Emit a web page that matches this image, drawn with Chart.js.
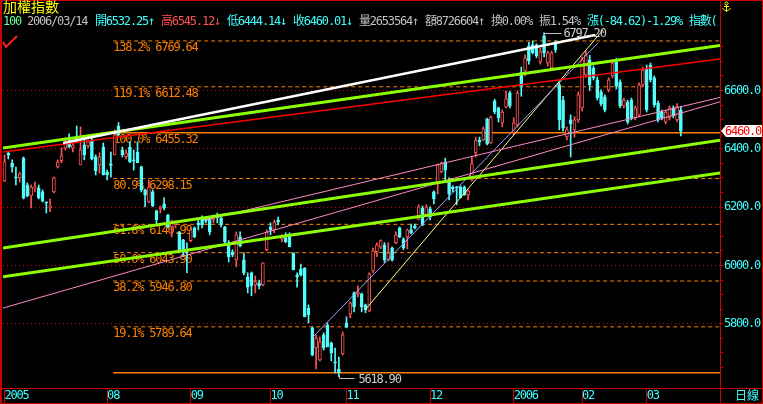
<!DOCTYPE html>
<html>
<head>
<meta charset="utf-8">
<script src="https://cdn.jsdelivr.net/npm/chart.js@4/dist/chart.umd.min.js"></script>
<style>
html, body { margin: 0; padding: 0; background: #000; }
#wrap { position: relative; width: 763px; height: 404px; overflow: hidden; background: #000; }
#wrap canvas { position: absolute; left: 0; top: 0; }
.txt { position: absolute; white-space: nowrap; font: 12px "DejaVu Sans Mono", "Noto Sans CJK TC", monospace; letter-spacing: -1.2px; line-height: 13px; }
</style>
</head>
<body>
<div id="wrap">
  <canvas id="main_chart" width="763" height="404"></canvas>
  <div class="txt" style="left:3px;top:0px;color:#ffff00;font-size:14px;line-height:15px;letter-spacing:0">加權指數</div>
  <div id="info"></div>
  <div class="txt" style="left:735px;top:390px;color:#40ffff;letter-spacing:0">日線</div>
</div>
<script>
// daily bars, index 0 = first bar on screen, last = 2006/03/14
const opens = [6290,6385,6350,6303,6300,6368,6276,6238,6266,6266,6252,6218,6200,6252,6338,6359,6403,6424,6403,6434,
  6345,6413,6410,6427,6372,6345,6406,6320,6348,6379,6478,6396,6372,6406,6362,6389,6338,6259,6218,6252,
  6187,6194,6211,6173,6132,6139,6115,6088,6047,6085,6129,6146,6166,6163,6163,6156,6168,6163,6132,6078,
  6047,6019,6098,6019,5961,5975,5933,5940,5933,6054,6132,6122,6156,6091,6095,6105,6043,5968,5988,5992,
  5854,5786,5717,5676,5762,5796,5734,5669,5645,5697,5803,5834,5906,5903,5903,5865,5844,5981,6047,6064,
  6071,6019,6060,6078,6129,6091,6098,6122,6136,6158,6197,6173,6194,6252,6280,6321,6355,6286,6269,6269,
  6269,6269,6242,6293,6386,6430,6430,6502,6420,6564,6540,6489,6543,6592,6455,6482,6663,6667,6752,6756,
  6756,6698,6787,6694,6677,6763,6619,6567,6441,6499,6465,6499,6540,6653,6705,6677,6636,6595,6578,6602,
  6650,6698,6629,6547,6560,6567,6506,6516,6619,6677,6687,6643,6557,6526,6492,6506,6540,6499,6532.25];
const highs = [6379,6390,6362,6337,6320,6372,6283,6276,6286,6276,6259,6218,6228,6303,6362,6403,6437,6451,6424,6478,
  6475,6430,6430,6437,6379,6386,6420,6327,6389,6465,6490,6406,6396,6424,6396,6424,6341,6262,6293,6259,
  6190,6204,6232,6175,6156,6153,6117,6090,6078,6129,6132,6156,6170,6166,6166,6166,6180,6166,6134,6085,
  6054,6115,6115,6043,5975,5978,5964,5950,6009,6122,6146,6156,6166,6105,6112,6112,6043,5975,6005,5992,
  5865,5789,5762,5755,5769,5803,5738,5717,5686,5772,5824,5875,5910,5930,5906,5868,5975,6060,6078,6088,
  6078,6078,6064,6115,6132,6095,6125,6142,6142,6208,6204,6208,6201,6256,6348,6355,6368,6300,6273,6271,
  6273,6273,6259,6372,6440,6440,6475,6505,6512,6570,6543,6533,6598,6598,6506,6598,6680,6722,6765,6770,
  6760,6745,6797.2,6735,6735,6770,6630,6580,6475,6516,6510,6595,6715,6735,6720,6684,6646,6602,6585,6643,
  6705,6710,6636,6574,6567,6574,6547,6626,6680,6687,6694,6650,6564,6533,6533,6547,6547,6555,6545.12];
const lows = [6288,6365,6320,6276,6286,6228,6235,6197,6252,6228,6218,6180,6184,6249,6334,6352,6396,6403,6389,6420,
  6345,6362,6403,6362,6310,6317,6310,6293,6303,6379,6445,6372,6365,6352,6327,6352,6252,6201,6214,6201,
  6139,6180,6190,6129,6098,6129,6043,6030,5975,6081,6095,6122,6129,6146,6105,6146,6146,6132,6078,6012,
  6030,5995,6064,5968,5906,5896,5906,5920,5930,6050,6105,6112,6139,6081,6078,6064,5985,5926,5964,5824,
  5803,5690,5645,5673,5710,5721,5673,5632,5618.9,5693,5786,5820,5841,5892,5841,5838,5841,5975,6030,6057,
  6010,6015,6015,6075,6095,6054,6057,6108,6125,6156,6136,6170,6156,6211,6245,6318,6293,6225,6252,6208,
  6232,6240,6225,6290,6372,6410,6427,6413,6418,6520,6492,6475,6540,6540,6448,6475,6580,6650,6690,6725,
  6712,6690,6715,6684,6670,6730,6465,6460,6430,6372,6440,6490,6530,6645,6600,6636,6567,6547,6526,6595,
  6643,6605,6540,6540,6485,6499,6499,6509,6612,6526,6629,6543,6492,6499,6485,6499,6506,6492,6444.14];
const closes = [6355,6378,6337,6300,6314,6231,6238,6269,6269,6232,6221,6214,6203,6300,6355,6376,6417,6406,6413,6425,
  6396,6379,6424,6365,6324,6372,6310,6310,6343,6448,6448,6379,6386,6355,6358,6352,6259,6242,6269,6204,
  6156,6201,6197,6132,6149,6146,6047,6047,6043,6122,6098,6139,6139,6153,6115,6163,6164,6139,6081,6030,
  6036,6105,6067,5975,5926,5930,5944,5930,6009,6115,6122,6149,6149,6098,6081,6064,5985,5961,5968,5824,
  5831,5693,5751,5738,5717,5721,5700,5666,5632,5762,5789,5872,5858,5910,5858,5848,5971,6050,6071,6085,
  6019,6043,6019,6105,6098,6060,6122,6112,6129,6201,6139,6201,6166,6228,6345,6352,6327,6245,6262,6266,
  6232,6242,6256,6348,6430,6423,6468,6417,6509,6526,6506,6526,6571,6547,6489,6591,6615,6711,6701,6729,
  6718,6732,6729,6729,6729,6739,6499,6471,6465,6485,6499,6585,6705,6722,6619,6643,6574,6554,6533,6636,
  6694,6615,6547,6567,6492,6506,6540,6619,6670,6533,6636,6550,6499,6506,6526,6540,6513,6544.63,6460.01];
const lastDate = '2006/03/14';
const volume = 2653564;
const amount = 8726604;

// month axis
const tickIdx = [0, 27, 49, 70, 90, 112, 134, 152, 169];
const tickText = ['2005', '08', '09', '10', '11', '12', '2006', '02', '03'];
const yLabelValues = [5800, 6000, 6200, 6400, 6600];

// fibonacci levels
const fibPct = [0, 19.1, 38.2, 50, 61.8, 80.9, 100, 119.1, 138.2];
const fibValue = [5632.49, 5789.64, 5946.80, 6043.90, 6140.99, 6298.15, 6455.32, 6612.48, 6769.64];
const fibFrom = 28.6;

// drawn trend lines: [bar index, price]
const trendNames = ['white', 'greenUp', 'red', 'greenMid', 'greenLow', 'pinkUp', 'pinkLow', 'lavender', 'yellow'];
const trendFrom = [[15.4, 6420], [-0.4, 6403], [-0.4, 6389], [-0.4, 6060], [-0.4, 5961], [52.8, 6156], [-0.4, 5854], [81.2, 5755], [94.9, 5848]];
const trendTo = [[155.4, 6790], [188.3, 6754], [188.3, 6708], [188.3, 6429], [188.3, 6317], [188.3, 6576], [188.3, 6561], [156.2, 6763], [157.5, 6807]];

const X_MIN = -0.4, X_MAX = 188.3, Y_MIN = 5580, Y_MAX = 6814;

const UP = '#ff5454', DOWN = '#54fcfc', CYAN = '#40ffff', ORANGE = '#ff8000', FRAME = '#c80000';
const FONT = '12px "DejaVu Sans Mono", monospace';
const trendStyle = {
  white: ['#ffffff', 2.5], greenUp: ['#8cff00', 3], red: ['#ff0000', 1.5], greenMid: ['#8cff00', 3],
  greenLow: ['#8cff00', 3], pinkUp: ['#ff88c8', 1], pinkLow: ['#ff88c8', 1], lavender: ['#a0a0ff', 1], yellow: ['#ffff88', 1]
};

// header line
const last = closes.length - 1;
const prev = closes[last - 1];
const chg = closes[last] - prev;
const pct = chg / prev * 100;
const amp = (highs[last] - lows[last]) / prev * 100;
const infoParts = [
  [3, '#66ff99', '100'],
  [27, '#c0c0c0', lastDate],
  [95, CYAN, '開' + opens[last].toFixed(2) + '↑'],
  [161, '#ff5050', '高' + highs[last].toFixed(2) + '↓'],
  [227, CYAN, '低' + lows[last].toFixed(2) + '↓'],
  [293, CYAN, '收' + closes[last].toFixed(2) + '↓'],
  [359, '#c0c0c0', '量' + volume + '↑'],
  [425, '#c0c0c0', '額' + amount + '↑'],
  [491, '#c0c0c0', '換0.00%'],
  [539, '#c0c0c0', '振' + amp.toFixed(2) + '%'],
  [587, CYAN, '漲(' + chg.toFixed(2) + ')' + pct.toFixed(2) + '%'],
  [689, CYAN, '指數(']
];
const info = document.getElementById('info');
infoParts.forEach(function(p) {
  let d = document.createElement('div');
  d.className = 'txt';
  d.style.left = p[0] + 'px';
  d.style.top = '15px';
  d.style.color = p[1];
  d.textContent = p[2];
  info.appendChild(d);
});

const isUp = closes.map((c, i) => c >= opens[i]);
const colors = isUp.map(u => u ? UP : DOWN);

let datasets = [];
trendNames.forEach(function(name, k) {
  datasets.push({
    type: 'line',
    data: [{x: trendFrom[k][0], y: trendFrom[k][1]}, {x: trendTo[k][0], y: trendTo[k][1]}],
    borderColor: trendStyle[name][0],
    borderWidth: trendStyle[name][1],
    pointRadius: 0,
    order: 1 + k
  });
});
fibValue.forEach(function(v, k) {
  let solid = fibPct[k] === 0 || fibPct[k] === 100;
  datasets.push({
    type: 'line',
    data: [{x: fibFrom, y: v}, {x: X_MAX, y: v}],
    borderColor: ORANGE,
    borderWidth: solid ? 1.5 : 1,
    borderDash: solid ? [] : [4, 3],
    pointRadius: 0,
    order: 40
  });
});
datasets.push({
  type: 'bar',
  data: lows.map((l, i) => ({x: i, y: [l, highs[i]]})),
  backgroundColor: colors,
  borderWidth: 0,
  barThickness: 1,
  grouped: false,
  order: 30
});
datasets.push({
  type: 'bar',
  data: opens.map((o, i) => ({x: i, y: [o, closes[i]]})),
  backgroundColor: isUp.map(u => u ? '#000000' : DOWN),
  borderColor: colors,
  borderWidth: 1,
  borderSkipped: false,
  minBarLength: 1,
  barThickness: 3,
  grouped: false,
  order: 29
});

const decor = {
  id: 'decor',
  beforeDraw(chart) {
    chart.ctx.letterSpacing = '-1.2px';
  },
  beforeDatasetsDraw(chart) {
    const ctx = chart.ctx, x = chart.scales.x, y = chart.scales.y;
    ctx.save();
    ctx.font = FONT;
    ctx.textBaseline = 'top';
    ctx.fillStyle = ORANGE;
    fibPct.forEach(function(p, k) {
      if (p === 0) return;
      ctx.fillText(p.toFixed(1) + '% ' + fibValue[k].toFixed(2), x.getPixelForValue(fibFrom), y.getPixelForValue(fibValue[k]) + 1);
    });
    ctx.restore();
  },
  afterDatasetsDraw(chart) {
    const ctx = chart.ctx, x = chart.scales.x, y = chart.scales.y, area = chart.chartArea;
    ctx.save();
    ctx.font = FONT;
    ctx.textBaseline = 'middle';
    // peak
    let hi = Math.max(...highs), iHi = highs.indexOf(hi);
    let px = Math.round(x.getPixelForValue(iHi)) + 0.5, py = Math.round(y.getPixelForValue(hi)) + 0.5;
    ctx.strokeStyle = '#c0c0c0';
    ctx.lineWidth = 1;
    ctx.beginPath();
    ctx.moveTo(px, py + 4); ctx.lineTo(px, py); ctx.lineTo(px + 17, py);
    ctx.stroke();
    ctx.fillStyle = '#d0d0d0';
    ctx.fillText(hi.toFixed(2), px + 19, py);
    // trough
    let lo = Math.min(...lows), iLo = lows.indexOf(lo);
    px = Math.round(x.getPixelForValue(iLo)) + 0.5; py = Math.round(y.getPixelForValue(lo)) + 0.5;
    ctx.beginPath();
    ctx.moveTo(px, py - 2); ctx.lineTo(px, py + 1); ctx.lineTo(px + 15, py + 1);
    ctx.stroke();
    ctx.fillText(lo.toFixed(2), px + 19, py + 2);
    // last price tag
    let ty = Math.round(y.getPixelForValue(closes[last]));
    let r = area.right + 1;
    ctx.fillStyle = '#ffffff';
    ctx.beginPath();
    ctx.moveTo(r, ty); ctx.lineTo(r + 5, ty - 6); ctx.lineTo(r + 42, ty - 6); ctx.lineTo(r + 42, ty + 6); ctx.lineTo(r + 5, ty + 6);
    ctx.closePath();
    ctx.fill();
    ctx.fillStyle = '#ff0000';
    ctx.fillText(closes[last].toFixed(1), r + 4, ty + 1);
    // check mark
    ctx.strokeStyle = '#ff2020';
    ctx.lineWidth = 2;
    ctx.beginPath();
    ctx.moveTo(3, 42); ctx.lineTo(6, 47); ctx.lineTo(17, 36);
    ctx.stroke();
    ctx.restore();
  },
  afterDraw(chart) {
    const ctx = chart.ctx, area = chart.chartArea, W = chart.width, H = chart.height;
    ctx.save();
    ctx.strokeStyle = FRAME;
    ctx.lineWidth = 1;
    ctx.strokeRect(0.5, 0.5, W - 1, H - 1);
    ctx.beginPath();
    ctx.moveTo(1.5, 0); ctx.lineTo(1.5, H);
    ctx.moveTo(area.right + 0.5, 0); ctx.lineTo(area.right + 0.5, H);
    ctx.moveTo(0, area.bottom + 0.5); ctx.lineTo(W, area.bottom + 0.5);
    ctx.stroke();
    // small anchor icon
    let ax = area.right + 6.5;
    ctx.strokeStyle = '#ffff00';
    ctx.lineWidth = 1;
    ctx.beginPath();
    ctx.arc(ax, 3.5, 1.5, 0, Math.PI * 2);
    ctx.moveTo(ax, 5); ctx.lineTo(ax, 11.5);
    ctx.moveTo(ax - 2.5, 6.5); ctx.lineTo(ax + 2.5, 6.5);
    ctx.moveTo(ax - 4, 8); ctx.quadraticCurveTo(ax, 14, ax + 4, 8);
    ctx.stroke();
    ctx.restore();
  }
};

new Chart(document.getElementById('main_chart'), {
  type: 'bar',
  data: { datasets: datasets },
  options: {
    responsive: false,
    devicePixelRatio: 1,
    animation: false,
    events: [],
    layout: { padding: { left: 3, right: 1, top: 28, bottom: 0 } },
    plugins: { legend: { display: false }, tooltip: { enabled: false } },
    scales: {
      x: {
        type: 'linear',
        min: X_MIN,
        max: X_MAX,
        offset: false,
        afterBuildTicks: (s) => { s.ticks = tickIdx.map(v => ({value: v})); },
        afterFit: (s) => { s.height = 16; },
        ticks: {
          autoSkip: false,
          maxRotation: 0,
          align: 'start',
          padding: -15,
          color: CYAN,
          font: { family: '"DejaVu Sans Mono", monospace', size: 12 },
          callback: (v) => tickText[tickIdx.indexOf(v)]
        },
        grid: { offset: false, drawOnChartArea: false, drawTicks: true, tickLength: 16, color: FRAME, tickColor: FRAME },
        border: { display: false }
      },
      y: {
        type: 'linear',
        position: 'right',
        min: Y_MIN,
        max: Y_MAX,
        afterBuildTicks: (s) => {
          let t = [];
          for (let v = yLabelValues[0] - 150; v <= yLabelValues[yLabelValues.length - 1] + 150; v += 50) t.push({value: v});
          s.ticks = t;
        },
        afterFit: (s) => { s.width = 42; },
        ticks: {
          autoSkip: false,
          padding: 1,
          color: CYAN,
          font: { family: '"DejaVu Sans Mono", monospace', size: 12 },
          callback: (v) => yLabelValues.includes(v) ? v.toFixed(1) : ''
        },
        grid: {
          color: (c) => (c.tick && yLabelValues.includes(c.tick.value)) ? '#d00000' : 'rgba(0,0,0,0)',
          tickColor: FRAME,
          tickLength: 3,
          tickBorderDash: [],
          lineWidth: 1
        },
        border: { display: false, dash: [1, 3] }
      }
    }
  },
  plugins: [decor]
});
</script>
</body>
</html>
